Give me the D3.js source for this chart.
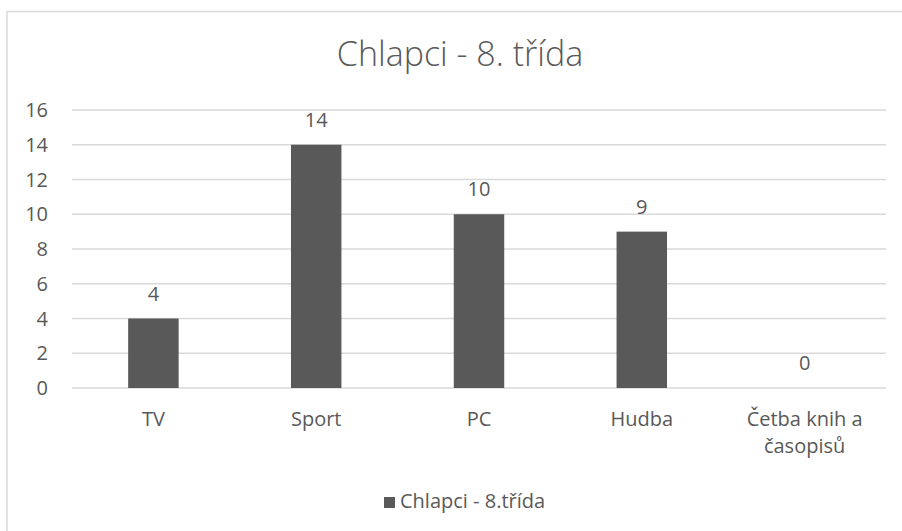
<!DOCTYPE html>
<html>
<head>
<meta charset="utf-8">
<script src="https://cdn.jsdelivr.net/npm/d3@7"></script>
<style>
  body { margin: 0; background: #fff; }
  text { font-family: "Open Sans", sans-serif; fill: #595959; }
</style>
</head>
<body>
<div class="chart"></div>
<script>
// data
const categories = ["TV", "Sport", "PC", "Hudba", "Četba knih a|časopisů"];
const values = [4, 14, 10, 9, 0];
const yTicks = [0, 2, 4, 6, 8, 10, 12, 14, 16];
const seriesName = "Chlapci - 8.třída";
const title = "Chlapci - 8. třída";

const W = 902, H = 531;
let margin = { top: 110, right: 16, bottom: 143, left: 72 };
const w = W - margin.left - margin.right;
const h = H - margin.top - margin.bottom;

const svg = d3.select(".chart")
  .append("svg")
  .attr("width", W)
  .attr("height", H);

// chart frame (right/bottom edges fall outside the picture)
svg.append("rect")
  .attr("x", 7).attr("y", 11.5)
  .attr("width", W + 20).attr("height", H + 20)
  .attr("fill", "none")
  .attr("stroke", "#d9d9d9")
  .attr("stroke-width", 1.5);

svg.append("text")
  .attr("x", 460).attr("y", 66)
  .attr("text-anchor", "middle")
  .style("font-size", "34px")
  .style("font-weight", 300)
  .text(title);

const g = svg.append("g")
  .attr("transform", "translate(" + margin.left + "," + margin.top + ")");

let x = d3.scaleBand()
  .domain(categories)
  .range([0, w])
  .paddingInner(0.69)
  .paddingOuter(0.345);

let y = d3.scaleLinear().domain([0, 16]).range([h, 0]);

// gridlines
g.selectAll(".grid")
  .data(yTicks)
  .enter()
  .append("line")
  .attr("x1", 0).attr("x2", w)
  .attr("y1", d => y(d)).attr("y2", d => y(d))
  .attr("stroke", "#d9d9d9")
  .attr("stroke-width", 1.3);

// y tick labels
g.selectAll(".ytick")
  .data(yTicks)
  .enter()
  .append("text")
  .attr("x", -24)
  .attr("y", d => y(d))
  .attr("dy", "0.36em")
  .attr("text-anchor", "end")
  .style("font-size", "20px")
  .text(d => d);

// bars
g.selectAll(".bar")
  .data(values)
  .enter()
  .append("rect")
  .attr("x", (d, i) => x(categories[i]))
  .attr("y", d => y(d))
  .attr("width", x.bandwidth())
  .attr("height", d => h - y(d))
  .attr("fill", "#595959");

// data labels
g.selectAll(".lbl")
  .data(values)
  .enter()
  .append("text")
  .attr("x", (d, i) => x(categories[i]) + x.bandwidth() / 2)
  .attr("y", d => y(d) - 18)
  .attr("text-anchor", "middle")
  .style("font-size", "20px")
  .text(d => d);

// category labels (| = line break)
let cat = g.selectAll(".cat")
  .data(categories)
  .enter()
  .append("text")
  .attr("text-anchor", "middle")
  .attr("transform", d => "translate(" + (x(d) + x.bandwidth() / 2) + "," + (h + 38) + ")")
  .style("font-size", "20px");
cat.selectAll("tspan")
  .data(d => d.split("|"))
  .enter()
  .append("tspan")
  .attr("x", 0)
  .attr("dy", (d, i) => i ? 27 : 0)
  .text(d => d);

// legend
const leg = svg.append("g").attr("transform", "translate(384,497)");
leg.append("rect")
  .attr("width", 11).attr("height", 11)
  .attr("fill", "#595959");
leg.append("text")
  .attr("x", 16).attr("y", 11)
  .style("font-size", "20px")
  .text(seriesName);
</script>
</body>
</html>
